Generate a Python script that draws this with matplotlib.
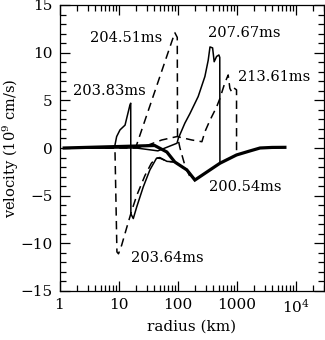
import numpy as np
import matplotlib
matplotlib.use("Agg")
import matplotlib.pyplot as plt
from matplotlib.ticker import FixedLocator, FixedFormatter, MultipleLocator, LogLocator, NullFormatter

plt.rcParams['font.family'] = 'DejaVu Serif'
plt.rcParams['mathtext.fontset'] = 'dejavuserif'

# radius (km) / velocity (1e9 cm/s)
r_20054 = [1.2, 41, 66, 90, 144, 197, 523, 1000, 1600, 2500, 4000, 6600]
v_20054 = [0, 0.26, -0.42, -1.47, -2.3, -3.36, -1.6, -0.73, -0.35, 0.0, 0.06, 0.07]

r_20364 = [1.2, 8.7, 9.4, 10.0, 11.3, 13.7, 16.7, 20.3, 28, 36, 44, 52, 66, 90, 144, 197]
v_20364 = [0, 0, -10.9, -11.1, -10.2, -8.4, -6.6, -5.0, -2.9, -1.6, -1.05, -1.1, -1.4, -1.47, -2.3, -3.36]

r_20383 = [1.2, 8.2, 8.7, 9.3, 10.6, 12.9, 15.6, 16.1, 16.2, 17.8, 20.3, 26.2, 34, 44, 50, 66, 90, 144, 197]
v_20383 = [0, 0, 0.3, 1.2, 1.9, 2.4, 4.5, 4.7, -6.9, -7.4, -6.2, -4.1, -2.3, -1.08, -1.0, -1.4, -1.47, -2.3, -3.36]

r_20451 = [1.2, 19.7, 90, 99, 100, 110, 133, 162, 197]
v_20451 = [0, 0.1, 12.1, 11.6, 1.2, 0, -1.8, -3.0, -3.36]

r_20767 = [1.2, 20, 46.5, 98, 103, 133, 162, 224, 291, 331, 355, 393, 418, 459, 502, 520, 523]
v_20767 = [0, 0, -0.3, 0.5, 1.0, 2.6, 3.6, 5.4, 7.5, 9.2, 10.6, 10.5, 9.05, 9.6, 9.76, 9.5, -1.6]

r_21361 = [1.2, 20, 31.5, 54, 98, 175, 259, 291, 354, 459, 523, 631, 722, 771, 824, 902, 1000, 1001]
v_21361 = [0, 0, 0.3, 0.84, 1.2, 0.84, 0.66, 1.7, 2.9, 4.3, 5.2, 6.8, 7.66, 6.26, 5.9, 6.3, 6.1, -0.73]

labels = ['200.54ms', '203.64ms', '203.83ms', '204.51ms', '207.67ms', '213.61ms']
label_r = [1385, 67.4, 6.89, 13.6, 1358, 4293]
label_v = [-4.09, -11.54, 5.98, 11.54, 12.07, 7.45]

xticks = [1, 10, 100, 1000, 10000]
xticklabels = ['1', '10', '100', '1000', r'10$^4$']

fig = plt.figure(figsize=(3.25, 3.4), dpi=100)
ax = fig.add_axes([59.5/325, 1-291/340, (323.7-59.5)/325, (291-5)/340])

dash = (0, (5.5, 3.5))
ax.plot(r_20054, v_20054, color='black', lw=2.3, solid_joinstyle='miter')
ax.plot(r_20364, v_20364, color='black', lw=1.1, linestyle=dash)
ax.plot(r_20383, v_20383, color='black', lw=1.1)
ax.plot(r_20451, v_20451, color='black', lw=1.1, linestyle=dash)
ax.plot(r_20767, v_20767, color='black', lw=1.1)
ax.plot(r_21361, v_21361, color='black', lw=1.1, linestyle=dash)

for txt, x, y in zip(labels, label_r, label_v):
    ax.text(x, y, txt, ha='center', va='center', fontsize=10.5)

ax.set_xscale('log')
ax.set_xlim(1, 3e4)
ax.set_ylim(-15, 15)
ax.xaxis.set_major_locator(FixedLocator(xticks))
ax.xaxis.set_major_formatter(FixedFormatter(xticklabels))
ax.xaxis.set_minor_locator(LogLocator(base=10, subs=np.arange(2, 10)))
ax.xaxis.set_minor_formatter(NullFormatter())
ax.yaxis.set_major_locator(MultipleLocator(5))
ax.yaxis.set_minor_locator(MultipleLocator(1))

ax.tick_params(which='both', direction='in', top=True, right=True, labelsize=11, width=0.9, pad=5)
ax.tick_params(which='major', length=7.5)
ax.tick_params(which='minor', length=4)
for s in ax.spines.values():
    s.set_linewidth(0.9)

ax.set_xlabel('radius (km)', fontsize=11, labelpad=3)
ax.set_ylabel(r'velocity (10$^9$ cm/s)', fontsize=10.5)
ax.yaxis.set_label_coords(-0.145, 0.5)

fig.savefig('out.png', dpi=100)
